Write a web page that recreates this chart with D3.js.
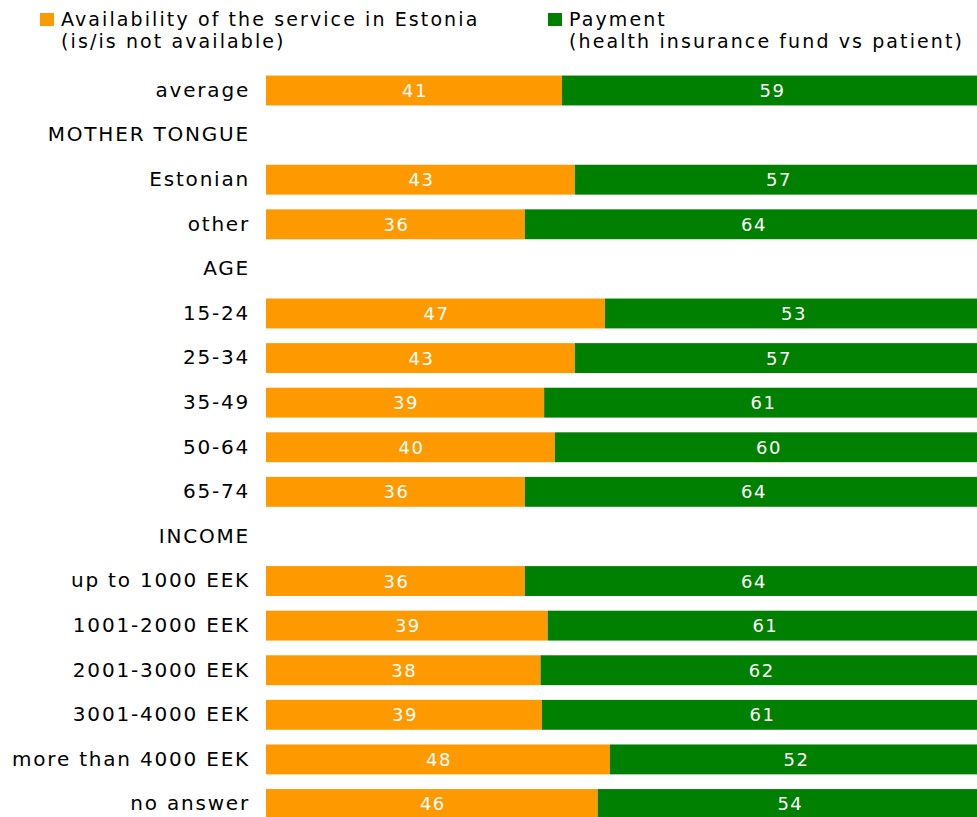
<!DOCTYPE html>
<html>
<head>
<meta charset="utf-8">
<script src="https://cdn.jsdelivr.net/npm/d3@7"></script>
<style>
  html, body { margin: 0; padding: 0; background: #fff; }
  svg { display: block; font-family: "DejaVu Sans", Verdana, sans-serif; }
</style>
</head>
<body>
<svg id="chart" width="977" height="817"></svg>
<script>
// Row labels (group headers have no bars)
const rows = [
  "average", "MOTHER TONGUE", "Estonian", "other", "AGE",
  "15-24", "25-34", "35-49", "50-64", "65-74", "INCOME",
  "up to 1000 EEK", "1001-2000 EEK", "2001-3000 EEK", "3001-4000 EEK",
  "more than 4000 EEK", "no answer"
];
// Share of answers (%) per reason; null marks a header row
const availability = [41.4, null, 43.2, 36.2, null, 47.4, 43.2, 38.9, 40.4, 36.2, null, 36.2, 39.4, 38.4, 38.6, 48.1, 46.4];
const payment      = [58.6, null, 56.8, 63.8, null, 52.6, 56.8, 61.1, 59.6, 63.8, null, 63.8, 60.6, 61.6, 61.4, 51.9, 53.6];
const seriesNames = ["Availability of the service in Estonia\n(is/is not available)", "Payment\n(health insurance fund vs patient)"];
const seriesColors = ["#FF9900", "#008000"];

const svg = d3.select("#chart");
const left = 266, right = 981;

const x = d3.scaleLinear().domain([0, 100]).range([left, right]);
const y = d3.scaleBand().domain(rows).range([68.2, 826.3]).paddingInner(0.33).paddingOuter(0.165);

const data = rows.map((r, i) => ({ row: r, vals: [availability[i], payment[i]] }))
  .filter(d => d.vals[0] !== null);

const stacked = [];
data.forEach(d => {
  let acc = 0;
  d.vals.forEach((v, k) => {
    stacked.push({ row: d.row, k, x0: acc, x1: acc + v, v });
    acc += v;
  });
});

// Bars
svg.append("g").selectAll("rect").data(stacked).join("rect")
  .attr("x", d => x(d.x0))
  .attr("width", d => x(d.x1) - x(d.x0))
  .attr("y", d => y(d.row))
  .attr("height", y.bandwidth())
  .attr("fill", d => seriesColors[d.k]);

// Value labels
svg.append("g").selectAll("text").data(stacked).join("text")
  .attr("x", d => (x(d.x0) + x(Math.min(d.x1, 100))) / 2 + 1)
  .attr("y", d => y(d.row) + y.bandwidth() / 2)
  .attr("dy", "0.36em")
  .attr("text-anchor", "middle")
  .attr("fill", "#fff")
  .style("font-size", "18px")
  .style("letter-spacing", "1.5px")
  .text(d => d3.format(".0f")(d.v));

// Category axis (left, no line/ticks)
const yAxis = d3.axisLeft(y).tickSize(0).tickPadding(16);
const ax = svg.append("g").attr("transform", `translate(${left},0)`).call(yAxis);
ax.select(".domain").remove();
ax.selectAll("text")
  .attr("fill", "#000")
  .style("font-family", "\"DejaVu Sans\", Verdana, sans-serif")
  .style("font-size", "20px")
  .style("letter-spacing", "1.8px");

// Legend
const legendX = [40, 548];
const leg = svg.append("g");
seriesNames.forEach((name, i) => {
  const g = leg.append("g").attr("transform", `translate(${legendX[i]},0)`);
  g.append("rect").attr("x", 0).attr("y", 13).attr("width", 14).attr("height", 13).attr("fill", seriesColors[i]);
  const t = g.append("text").attr("x", 21).attr("y", 26)
    .style("font-size", "19px").style("letter-spacing", "2.1px").attr("fill", "#000");
  name.split("\n").forEach((line, j) => {
    t.append("tspan").attr("x", 21).attr("y", 26 + j * 22).text(line);
  });
});
</script>
</body>
</html>
